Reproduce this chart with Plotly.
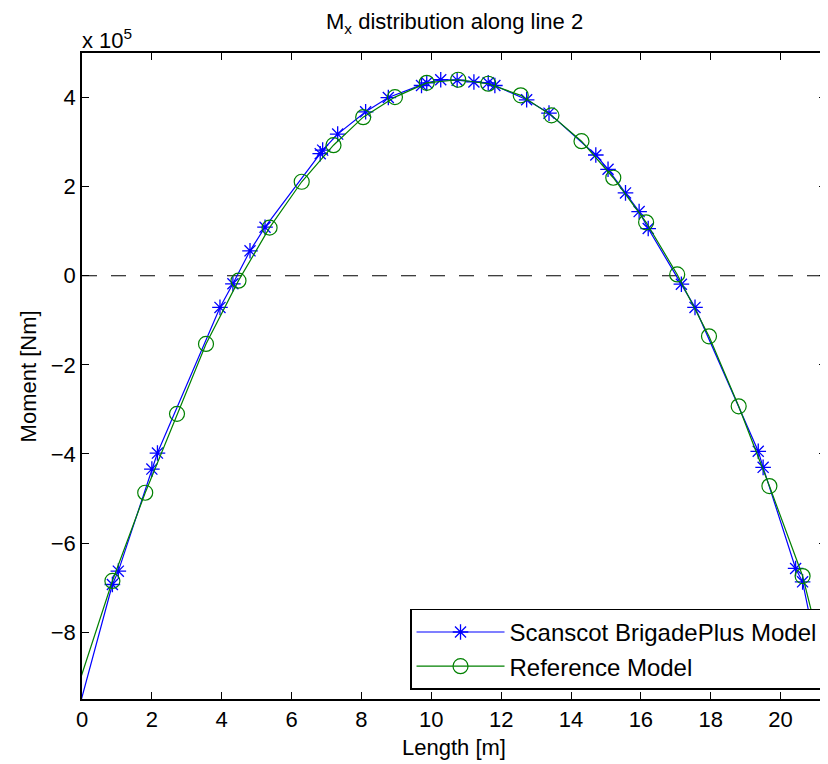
import plotly.graph_objects as go

# Scanscot BrigadePlus Model (x in m, moment in Nm); first/last points lie outside the axes
blue_x = [-0.30, 0.87, 1.04, 2.00, 2.16, 3.95, 4.32, 4.81, 5.24, 6.82, 6.89, 7.32, 8.12, 8.77,
          9.72, 9.87, 10.27, 10.74, 11.22, 11.63, 11.82, 12.73, 13.37, 14.71, 15.06, 15.56,
          15.95, 16.21, 17.16, 17.55, 19.36, 19.50, 20.43, 20.63, 21.60]
blue_y = [-1033000, -693000, -663000, -434000, -398000, -71000, -18000, 56000, 109000, 274000,
          282000, 318000, 368000, 400000, 427000, 433000, 440000, 439000, 435000, 433000,
          427000, 395000, 365000, 271000, 239000, 186000, 144000, 106000, -19000, -71000,
          -394000, -430000, -657000, -687000, -1058000]

# Reference Model
green_x = [-0.30, 0.87, 1.81, 2.72, 3.55, 4.48, 5.37, 6.29, 7.20, 8.05, 8.96, 9.87, 10.77,
           11.63, 12.56, 13.44, 14.30, 15.21, 16.15, 17.04, 17.95, 18.80, 19.68, 20.63, 21.60]
green_y = [-966000, -685000, -487000, -310000, -153000, -11000, 108000, 211000, 293000, 356000,
           401000, 433000, 440000, 431000, 405000, 360000, 302000, 220000, 120000, 3000,
           -136000, -293000, -472000, -674000, -977000]

x_ticks = [0, 2, 4, 6, 8, 10, 12, 14, 16, 18, 20]
y_ticks = [-800000, -600000, -400000, -200000, 0, 200000, 400000]
y_tick_labels = ["\u22128", "\u22126", "\u22124", "\u22122", "0", "2", "4"]

FONT = "Liberation Sans, Arial, Helvetica, sans-serif"
FS = 22

fig = go.Figure()
fig.add_trace(go.Scatter(
    x=blue_x, y=blue_y, mode="lines+markers", name="Scanscot BrigadePlus Model",
    line=dict(color="rgb(0,0,255)", width=1.2),
    marker=dict(symbol="asterisk-open", size=13, color="rgb(0,0,255)",
                line=dict(color="rgb(0,0,255)", width=1.3)),
    cliponaxis=True,
))
fig.add_trace(go.Scatter(
    x=green_x, y=green_y, mode="lines+markers", name="Reference Model",
    line=dict(color="rgb(0,128,0)", width=1.2),
    marker=dict(symbol="circle-open", size=15, color="rgb(0,128,0)",
                line=dict(color="rgb(0,128,0)", width=1.2)),
    cliponaxis=True,
))

fig.add_shape(type="line", xref="paper", yref="y", x0=0, x1=1, y0=0, y1=0,
              line=dict(color="black", width=1.2, dash="15px,14px"), layer="below")

axis_common = dict(
    showline=True, linecolor="black", linewidth=1.5, mirror="ticks",
    ticks="inside", ticklen=7, tickwidth=1, tickcolor="black",
    showgrid=False, zeroline=False,
    tickfont=dict(family=FONT, size=FS, color="black"),
)

# The page body adds an 8px offset, so the figure is 8px smaller on each axis
fig.update_layout(
    width=820, height=756,
    paper_bgcolor="white", plot_bgcolor="white",
    margin=dict(l=74, r=2, t=45, b=65, autoexpand=False),
    showlegend=True,
    legend=dict(
        x=0.9964, y=0.0144, xanchor="right", yanchor="bottom",
        bgcolor="white", bordercolor="black", borderwidth=1.2,
        font=dict(family=FONT, size=24, color="black"),
        itemwidth=88, tracegroupgap=0,
    ),
    xaxis=dict(range=[0, 21.3], tickvals=x_ticks, **axis_common),
    yaxis=dict(range=[-950000, 500000], tickvals=y_ticks, ticktext=y_tick_labels, **axis_common),
    annotations=[
        dict(text="M<sub>x</sub> distribution along line 2", xref="paper", yref="paper",
             x=0.5, y=1.0464, xanchor="center", yanchor="middle", showarrow=False,
             font=dict(family=FONT, size=FS, color="black")),
        dict(text="x 10<sup>5</sup>", xref="paper", yref="paper",
             x=-0.003, y=1.022, xanchor="left", yanchor="middle", showarrow=False,
             font=dict(family=FONT, size=FS, color="black")),
        dict(text="Length [m]", xref="paper", yref="paper",
             x=0.5, y=-0.0745, xanchor="center", yanchor="middle", showarrow=False,
             font=dict(family=FONT, size=FS, color="black")),
        dict(text="Moment [Nm]", xref="paper", yref="paper",
             x=-0.072, y=0.5, xanchor="center", yanchor="middle", showarrow=False,
             textangle=-90, font=dict(family=FONT, size=FS, color="black")),
    ],
)

fig.write_html("out.html")
